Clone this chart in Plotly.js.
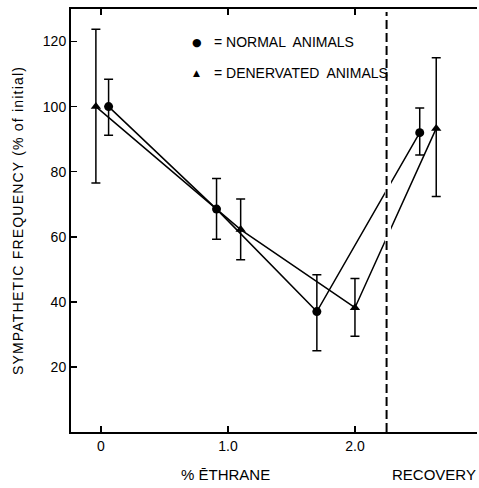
<!DOCTYPE html>
<html>
<head>
<meta charset="utf-8">
<script src="https://cdn.plot.ly/plotly-3.0.1.min.js"></script>
<style>
html,body{margin:0;padding:0;overflow:hidden;background:#fff;}
#chart{width:479px;height:488px;}
.ytitle{letter-spacing:1.2px;}
</style>
</head>
<body>
<div id="chart"></div>
<script>
// Data
var normalX = [0.06, 0.91, 1.70, 2.51];
var normalY = [100, 68.5, 37, 92];
var normalErrPlus = [8.4, 9.4, 11.3, 7.6];
var normalErrMinus = [8.8, 9.3, 12.0, 6.9];

var denervX = [-0.04, 1.10, 2.00, 2.64];
var denervY = [100, 62.2, 38.2, 93.3];
var denervErrPlus = [23.8, 9.4, 9.0, 21.7];
var denervErrMinus = [23.5, 9.3, 8.8, 20.9];

var xTickVals = [0, 1, 2];
var xTickText = ["0", "1.0", "2.0"];
var yTickVals = [20, 40, 60, 80, 100, 120];
var yTickText = ["20", "40", "60", "80", "100", "120"];

var recoveryDivider = 2.249;

var FONT = "Liberation Sans, Arial, Helvetica, sans-serif";

function errBar(plus, minus) {
  return {type: "data", symmetric: false, array: plus, arrayminus: minus,
          color: "#000", thickness: 1.5, width: 4.5, visible: true};
}

var traces = [
  {x: normalX, y: normalY, mode: "lines+markers", name: "NORMAL ANIMALS",
   line: {color: "#000", width: 1.5},
   marker: {symbol: "circle", size: 9, color: "#000"},
   error_y: errBar(normalErrPlus, normalErrMinus)},
  {x: denervX, y: denervY, mode: "lines+markers", name: "DENERVATED ANIMALS",
   line: {color: "#000", width: 1.5},
   marker: {symbol: "triangle-up", size: 9, color: "#000"},
   error_y: errBar(denervErrPlus, denervErrMinus)}
];

var layout = {
  width: 479, height: 488,
  margin: {l: 71, r: 2, t: 9, b: 56},
  paper_bgcolor: "#fff", plot_bgcolor: "#fff",
  showlegend: false,
  font: {family: FONT, color: "#000", size: 14},
  xaxis: {
    range: [-0.236, 2.961], showgrid: false, zeroline: false,
    showline: true, linecolor: "#000", linewidth: 2, mirror: "ticks",
    ticks: "inside", ticklen: 6, tickwidth: 1.5, tickcolor: "#000",
    tickvals: xTickVals, ticktext: xTickText,
    tickfont: {family: FONT, size: 14, color: "#000"}
  },
  yaxis: {
    range: [0, 130], showgrid: false, zeroline: false,
    showline: true, linecolor: "#000", linewidth: 2, mirror: false,
    ticks: "inside", ticklen: 6, tickwidth: 1.5, tickcolor: "#000",
    tickvals: yTickVals, ticktext: yTickText,
    tickfont: {family: FONT, size: 14, color: "#000"},
    title: {text: "SYMPATHETIC FREQUENCY (% of initial)", font: {family: FONT, size: 14, color: "#000"}, standoff: 16}
  },
  shapes: [
    {type: "rect", xref: "x", yref: "y", x0: 2.236, x1: 2.284, y0: 1, y1: 128,
     fillcolor: "#fff", line: {width: 0}, layer: "above"},
    {type: "line", xref: "x", yref: "paper", x0: recoveryDivider, x1: recoveryDivider, y0: 0, y1: 0.993,
     line: {color: "#000", width: 2, dash: "9px,4px"}, layer: "above"}
  ],
  annotations: [
    {xref: "x", yref: "y", x: 0.756, y: 119.8, text: "●", showarrow: false,
     font: {family: "DejaVu Sans", size: 11, color: "#000"}, xanchor: "center", yanchor: "middle"},
    {xref: "x", yref: "y", x: 0.756, y: 110.3, text: "▲", showarrow: false,
     font: {family: "DejaVu Sans", size: 9, color: "#000"}, xanchor: "center", yanchor: "middle"},
    {xref: "x", yref: "y", x: 0.874, y: 119.8, text: "= NORMAL  ANIMALS", showarrow: false,
     font: {family: FONT, size: 14, color: "#000"}, xanchor: "left", yanchor: "middle"},
    {xref: "x", yref: "y", x: 0.874, y: 110.3, text: "= DENERVATED  ANIMALS", showarrow: false,
     font: {family: FONT, size: 14, color: "#000"}, xanchor: "left", yanchor: "middle"},
    {xref: "paper", yref: "paper", x: (225 - 71) / 406, y: -0.1, text: "% ĒTHRANE", showarrow: false,
     font: {family: FONT, size: 15, color: "#000"}, xanchor: "center", yanchor: "middle"},
    {xref: "paper", yref: "paper", x: (434 - 71) / 406, y: -0.1, text: "RECOVERY", showarrow: false,
     font: {family: FONT, size: 15, color: "#000"}, xanchor: "center", yanchor: "middle"}
  ]
};

Plotly.newPlot("chart", traces, layout, {displayModeBar: false, staticPlot: true});
</script>
</body>
</html>
